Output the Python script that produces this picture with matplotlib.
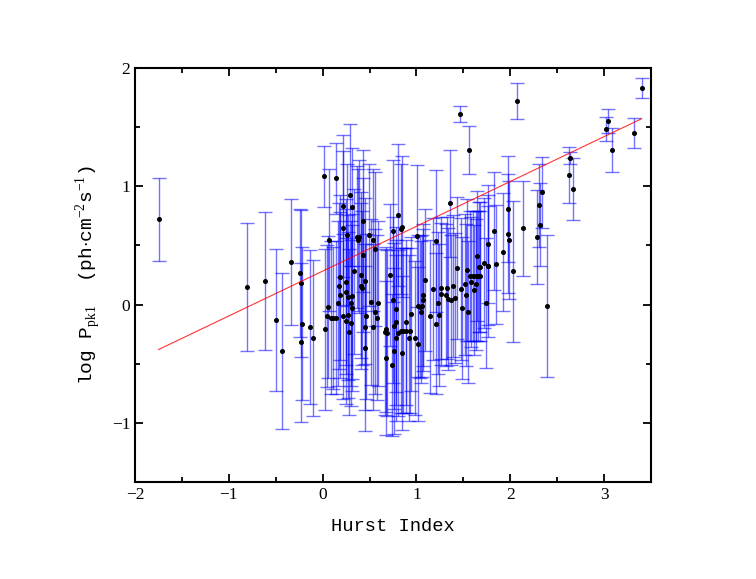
import numpy as np
import matplotlib
matplotlib.use("Agg")
import matplotlib.pyplot as plt
from matplotlib.ticker import MultipleLocator

# Hurst index, log peak flux and its error
hurst = [-1.74, -0.81, -0.61, -0.50, -0.43, -0.34, -0.245, -0.235, -0.225, -0.23,
         -0.14, -0.10, 0.01, 0.02, 0.14, 0.06, 0.05, 0.07, 0.09, 0.11,
         0.14, 0.16, 0.17, 0.295, 0.22, 0.31, 0.22, 0.26, 0.43, 0.365,
         0.39, 0.38, 0.49, 0.54, 0.43, 0.56, 0.33, 0.18, 0.25, 0.41,
         0.45, 0.41, 0.42, 0.25, 0.19, 0.31, 0.27, 0.30, 0.315, 0.52,
         0.585, 0.56, 0.215, 0.27, 0.25, 0.305, 0.46, 0.455, 0.54, 0.575,
         0.28, 0.455, 0.72, 0.80, 0.85, 0.84, 0.75, 0.755, 0.78, 0.78,
         0.76, 0.66, 0.69, 0.68, 0.78, 0.805, 0.83, 0.89, 0.89, 0.92,
         0.76, 0.845, 0.68, 0.74, 1.556, 1.354, 1.007, 1.21, 1.09, 1.18,
         1.26, 1.07, 1.26, 1.33, 1.39, 1.32, 1.34, 1.37, 1.41, 1.43,
         1.475, 1.52, 1.54, 1.53, 1.49, 1.55, 1.57, 1.585, 1.60, 1.63,
         1.66, 1.617, 1.65, 1.64, 1.67, 1.716, 1.76, 1.74, 1.76, 1.02,
         1.04, 1.06, 1.05, 1.074, 1.145, 1.23, 1.24, 1.21, 0.94, 0.986,
         1.02, 0.86, 0.93, 2.337, 2.305, 2.316, 2.284, 2.394, 2.14, 1.975,
         1.975, 1.99, 1.92, 2.03, 1.83, 1.85, 1.766, 1.68, 1.68, 3.404,
         3.32, 3.04, 3.02, 3.085, 2.64, 2.628, 2.67, 1.468, 2.07]

log_ppk = [0.72, 0.15, 0.20, -0.13, -0.39, 0.36, 0.27, 0.18, -0.16, -0.32,
           -0.19, -0.28, 1.085, -0.21, 1.07, -0.02, -0.10, 0.55, -0.11, -0.11,
           -0.11, 0.01, 0.155, 0.93, 0.83, 0.825, 0.65, 0.59, 0.71, 0.57,
           0.575, 0.55, 0.59, 0.55, 0.42, 0.47, 0.28, 0.23, 0.19, 0.25,
           0.20, 0.155, 0.14, 0.11, 0.08, 0.07, 0.06, 0.01, -0.03, 0.02,
           0.01, -0.06, -0.10, -0.09, -0.14, -0.155, -0.10, -0.19, -0.19, -0.11,
           -0.23, -0.37, 0.25, 0.755, 0.66, 0.64, 0.625, 0.04, -0.04, -0.15,
           -0.18, -0.23, -0.24, -0.21, -0.28, -0.24, -0.22, -0.15, -0.22, -0.28,
           -0.39, -0.41, -0.45, -0.51, 1.307, 0.856, 0.583, 0.535, 0.21, 0.13,
           0.144, 0.085, 0.09, 0.14, 0.158, 0.08, 0.05, 0.04, 0.057, 0.31,
           0.13, 0.17, 0.29, 0.08, -0.03, -0.06, 0.24, 0.19, 0.24, 0.24,
           0.24, 0.12, 0.41, 0.17, 0.32, 0.355, 0.33, 0.017, 0.51, -0.015,
           -0.02, -0.015, -0.06, 0.036, -0.10, 0.014, -0.085, -0.16, -0.08, -0.28,
           -0.33, -0.22, -0.22, 0.95, 0.84, 0.674, 0.57, -0.01, 0.645, 0.81,
           0.60, 0.547, 0.445, 0.28, 0.62, 0.34, 0.327, 0.32, 0.24, 1.83,
           1.45, 1.553, 1.485, 1.307, 1.24, 1.096, 0.978, 1.61, 1.72]

err = [0.35, 0.54, 0.58, 0.60, 0.66, 0.53, 0.54, 0.62, 0.65, 0.67,
       0.65, 0.66, 0.26, 0.68, 0.30, 0.60, 0.60, 0.60, 0.65, 0.60,
       0.65, 0.70, 0.70, 0.60, 0.60, 0.50, 0.65, 0.60, 0.60, 0.60,
       0.65, 0.60, 0.60, 0.60, 0.65, 0.65, 0.70, 0.70, 0.70, 0.70,
       0.70, 0.70, 0.65, 0.70, 0.70, 0.70, 0.70, 0.70, 0.70, 0.70,
       0.70, 0.70, 0.70, 0.70, 0.70, 0.70, 0.70, 0.70, 0.70, 0.70,
       0.70, 0.70, 0.60, 0.60, 0.60, 0.55, 0.60, 0.70, 0.70, 0.70,
       0.70, 0.70, 0.70, 0.70, 0.70, 0.70, 0.70, 0.70, 0.70, 0.70,
       0.70, 0.65, 0.65, 0.60, 0.20, 0.45, 0.60, 0.60, 0.60, 0.60,
       0.60, 0.60, 0.60, 0.60, 0.60, 0.60, 0.60, 0.55, 0.55, 0.60,
       0.60, 0.60, 0.60, 0.60, 0.60, 0.60, 0.55, 0.55, 0.55, 0.55,
       0.55, 0.55, 0.55, 0.55, 0.55, 0.55, 0.50, 0.55, 0.50, 0.60,
       0.60, 0.60, 0.60, 0.60, 0.65, 0.60, 0.60, 0.60, 0.65, 0.65,
       0.65, 0.70, 0.70, 0.30, 0.35, 0.35, 0.40, 0.60, 0.40, 0.45,
       0.50, 0.50, 0.50, 0.60, 0.50, 0.50, 0.60, 0.55, 0.55, 0.085,
       0.13, 0.10, 0.10, 0.19, 0.05, 0.24, 0.26, 0.07, 0.155]

# linear fit shown in red
fit_slope = 0.379
fit_intercept = 0.283
fit_range = [-1.75, 3.40]

plt.rcParams["font.family"] = ["Liberation Serif", "DejaVu Serif"]
plt.rcParams["mathtext.fontset"] = "custom"
plt.rcParams["mathtext.rm"] = "Liberation Serif"

fig = plt.figure(figsize=(7.56, 5.79), dpi=100)
ax = fig.add_axes([0.1786, 0.1675, 0.6825, 0.715])

ax.errorbar(hurst, log_ppk, yerr=err, fmt="none", ecolor="blue", alpha=0.55,
            elinewidth=1.0, capsize=5, capthick=1.0)
ax.plot(hurst, log_ppk, "o", color="black", markersize=2.6, zorder=3)

xf = np.array(fit_range)
ax.plot(xf, fit_slope * xf + fit_intercept, color="red", lw=0.8, alpha=0.8, zorder=4)

ax.set_xlim(-2, 3.5)
ax.set_ylim(-1.5, 2)
ax.xaxis.set_major_locator(MultipleLocator(1))
ax.xaxis.set_minor_locator(MultipleLocator(0.5))
ax.yaxis.set_major_locator(MultipleLocator(1))
ax.yaxis.set_minor_locator(MultipleLocator(0.5))
ax.tick_params(which="both", direction="in", top=True, right=True, width=1.3, labelsize=12.5)
ax.tick_params(which="major", length=6)
ax.tick_params(which="minor", length=3.5)
for s in ax.spines.values():
    s.set_linewidth(1.5)

ax.set_xlabel("Hurst Index", family="Liberation Mono", fontsize=13.5, labelpad=11)
ax.set_ylabel(r"log P$_{\rm pk1}$  (ph$\cdot$cm$^{-2}$s$^{-1}$)",
              family="Liberation Mono", fontsize=14, labelpad=6)

fig.savefig("out.png", dpi=100)
